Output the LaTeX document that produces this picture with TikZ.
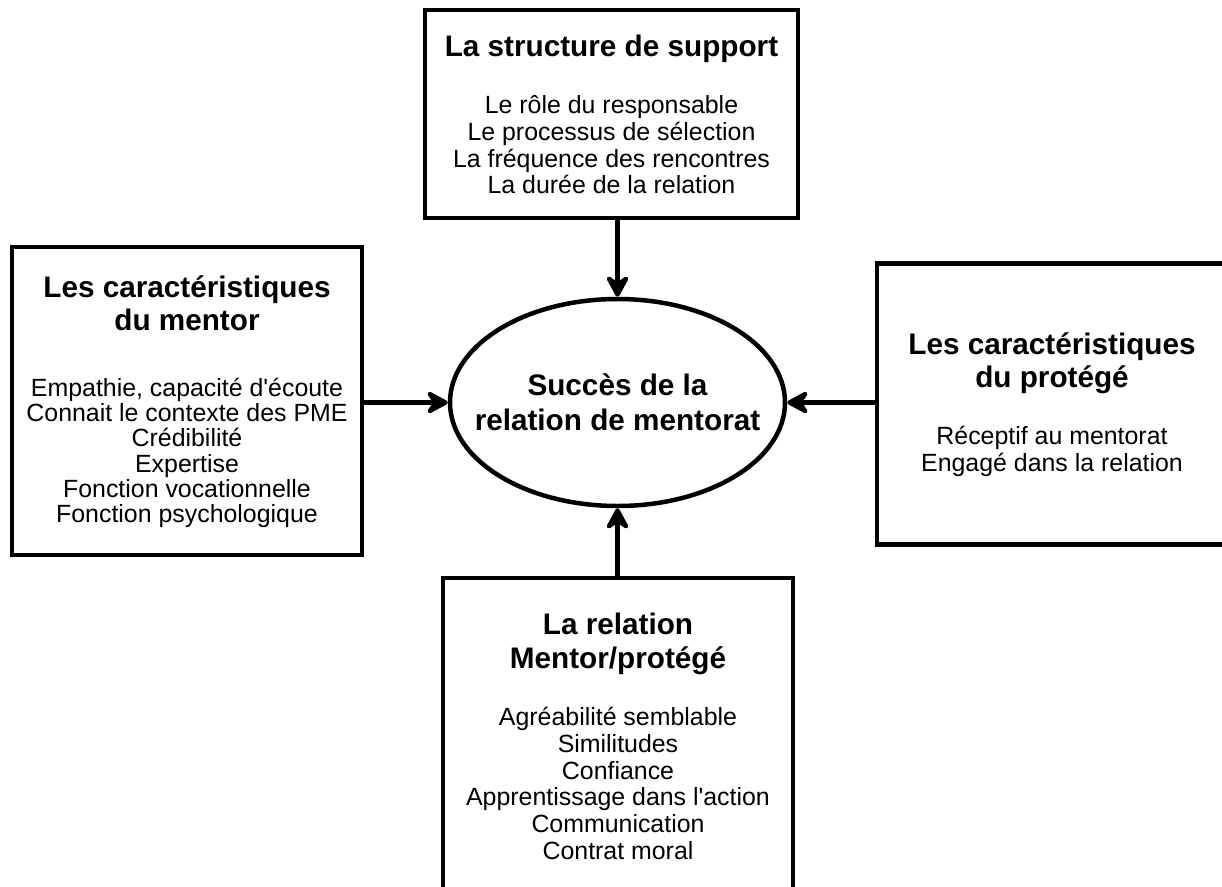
\documentclass[tikz,border=0pt]{standalone}
\usepackage{fontspec}
\setmainfont{Liberation Sans}
\usetikzlibrary{arrows.meta,shapes.geometric}

\newcommand\hd{\fontsize{29.7}{32.5}\selectfont\bfseries\strut}
\newcommand\bd{\fontsize{24.9}{26.8}\selectfont}
\newcommand\ct{\fontsize{29.7}{35}\selectfont\bfseries}

\begin{document}
\begin{tikzpicture}[
        x=1pt,
        y=-1pt,
        line width=4.5pt,
        box/.style={draw, rectangle, align=center, inner sep=0pt, font=\bd},
        goal/.style={draw, ellipse, align=center, inner ysep=0pt, inner xsep=-30pt, font=\ct},
        arr/.style={-{Stealth[length=27pt, width=29pt, inset=10pt, round]}}
    ]
    \useasboundingbox (0,0) rectangle (1222,886);
    \clip (0,0) rectangle (1222,886);

    \node[goal, minimum width=335, minimum height=207] (succes) at (617.5,402.5)
        {Succès de la\\relation de mentorat};

    \node[box, minimum width=373, minimum height=208] (support) at (611.5,114)
        {{\hd La structure de support}\\[28pt]
         Le rôle du responsable\\
         Le processus de sélection\\
         La fréquence des rencontres\\
         La durée de la relation};
    \node[box, minimum width=350, minimum height=308, font=\fontsize{24.9}{25.2}\selectfont] (mentor) at (187,401)
        {{\hd Les caractéristiques}\\
         {\hd du mentor}\\[37pt]
         Empathie, capacité d\textquotesingle écoute\\
         Connait le contexte des PME\\
         Crédibilité\\
         Expertise\\
         Fonction vocationnelle\\
         Fonction psychologique};
    \node[box, minimum width=350, minimum height=281] (protege) at (1052,404)
        {{\hd Les caractéristiques}\\
         {\hd du protégé}\\[28pt]
         Réceptif au mentorat\\
         Engagé dans la relation};
    \node[box, minimum width=350, minimum height=316] (relation) at (618,736)
        {{\hd La relation}\\
         {\hd Mentor/protégé}\\[28pt]
         Agréabilité semblable\\
         Similitudes\\
         Confiance\\
         Apprentissage dans l\textquotesingle action\\
         Communication\\
         Contrat moral};

    \draw[arr] (support.south -| succes.north) -- (succes.north);
    \draw[arr] (mentor.east |- succes.west) -- (succes.west);
    \draw[arr] (protege.west |- succes.east) -- (succes.east);
    \draw[arr] (relation.north -| succes.south) -- (succes.south);
\end{tikzpicture}
\end{document}
